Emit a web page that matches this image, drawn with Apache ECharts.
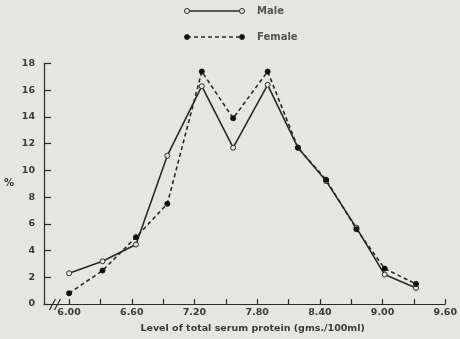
<!DOCTYPE html>
<html lang="en">
<head>
<meta charset="utf-8">
<title>Serum protein</title>
<script src="https://cdn.jsdelivr.net/npm/echarts@6/dist/echarts.min.js"></script>
<style>
    html, body { margin: 0; padding: 0; background: #e5e5e2; }
    #main { width: 460px; height: 339px; }
</style>
</head>
<body>
<div id="main"></div>
<script>
// level of total serum protein (gms./100ml)
var protein = [6.00, 6.32, 6.64, 6.94, 7.27, 7.57, 7.90, 8.19, 8.46, 8.75, 9.02, 9.32];
var male = [2.3, 3.2, 4.45, 11.1, 16.3, 11.7, 16.4, 11.7, 9.2, 5.7, 2.2, 1.2];
var female = [0.8, 2.5, 5.0, 7.5, 17.4, 13.9, 17.4, 11.7, 9.3, 5.6, 2.65, 1.5];
var xTicks = [6.0, 6.3, 6.6, 6.9, 7.2, 7.5, 7.8, 8.1, 8.4, 8.7, 9.0, 9.3, 9.6];
var xLabels = [6.0, 6.6, 7.2, 7.8, 8.4, 9.0, 9.6];

var ink = '#2a2a2a', txt = '#3a3a3a', bg = '#e5e5e2';
var font = 'DejaVu Sans';

function pairs(xs, ys) {
    return xs.map(function (x, i) { return [x, ys[i]]; });
}

var myChart = echarts.init(document.getElementById('main'));

var option = {
    backgroundColor: bg,
    animation: false,
    grid: { left: 44, right: 14, top: 63.5, bottom: 32.5 },
    xAxis: {
        type: 'value',
        min: 5.76,
        max: 9.6,
        name: 'Level of total serum protein (gms./100ml)',
        nameLocation: 'middle',
        nameGap: 20,
        nameTextStyle: { color: txt, fontFamily: font, fontWeight: 'bold', fontSize: 9.5, padding: [0, 0, 0, 16] },
        axisLine: { lineStyle: { color: ink, width: 1.2 } },
        axisTick: { inside: true, length: 5, customValues: xTicks, lineStyle: { color: ink, width: 1.2 } },
        axisLabel: {
            customValues: xLabels, margin: 4,
            color: txt, fontFamily: font, fontWeight: 'bold', fontSize: 9.5,
            formatter: function (v) { return v.toFixed(2); }
        },
        splitLine: { show: false }
    },
    yAxis: {
        type: 'value',
        min: 0,
        max: 18,
        interval: 2,
        name: '%',
        nameLocation: 'middle',
        nameGap: 30,
        nameRotate: 0,
        nameTextStyle: { color: txt, fontFamily: font, fontWeight: 'bold', fontSize: 10, padding: [6, 0, 0, 0] },
        axisLine: { show: true, lineStyle: { color: ink, width: 1.2 } },
        axisTick: { show: true, inside: true, length: 7, lineStyle: { color: ink, width: 1.2 } },
        axisLabel: { margin: 9, color: txt, fontFamily: font, fontWeight: 'bold', fontSize: 9.5 },
        splitLine: { show: false }
    },
    series: [
        {
            name: 'Male',
            type: 'line',
            data: pairs(protein, male),
            symbol: 'circle',
            symbolSize: 5,
            lineStyle: { color: ink, width: 1.6 },
            itemStyle: { color: bg, borderColor: ink, borderWidth: 1 }
        },
        {
            name: 'Female',
            type: 'line',
            data: pairs(protein, female),
            symbol: 'circle',
            symbolSize: 5,
            lineStyle: { color: ink, width: 1.6, type: [4, 3] },
            itemStyle: { color: '#111', borderColor: '#111', borderWidth: 1 }
        }
    ]
};

myChart.setOption(option);

// legend drawn by hand: line with a marker at each end, as in the figure
var lx0 = 187, lx1 = 242;
function legendRow(y, label, dashed, filled) {
    return [
        { type: 'line', shape: { x1: lx0, y1: y, x2: lx1, y2: y },
          style: { stroke: ink, lineWidth: 1.4, lineDash: dashed ? [4, 3] : null } },
        { type: 'circle', shape: { cx: lx0, cy: y, r: 2.5 },
          style: { fill: filled ? '#111' : bg, stroke: ink, lineWidth: 1 } },
        { type: 'circle', shape: { cx: lx1, cy: y, r: 2.5 },
          style: { fill: filled ? '#111' : bg, stroke: ink, lineWidth: 1 } },
        { type: 'text', x: 257, y: y,
          style: { text: label, fill: '#555', font: 'bold 10px "' + font + '"', verticalAlign: 'middle' } }
    ];
}

// axis break marks near the origin
var p = myChart.convertToPixel({ gridIndex: 0 }, [5.86, 0]);
var breaks = [0, 5].map(function (dx) {
    return { type: 'line', shape: { x1: p[0] - 5 + dx, y1: p[1] + 6, x2: p[0] + 1 + dx, y2: p[1] - 5 },
             style: { stroke: ink, lineWidth: 1.2 } };
});

myChart.setOption({
    graphic: legendRow(11, 'Male', false, false)
        .concat(legendRow(37, 'Female', true, true))
        .concat(breaks)
});
</script>
</body>
</html>
